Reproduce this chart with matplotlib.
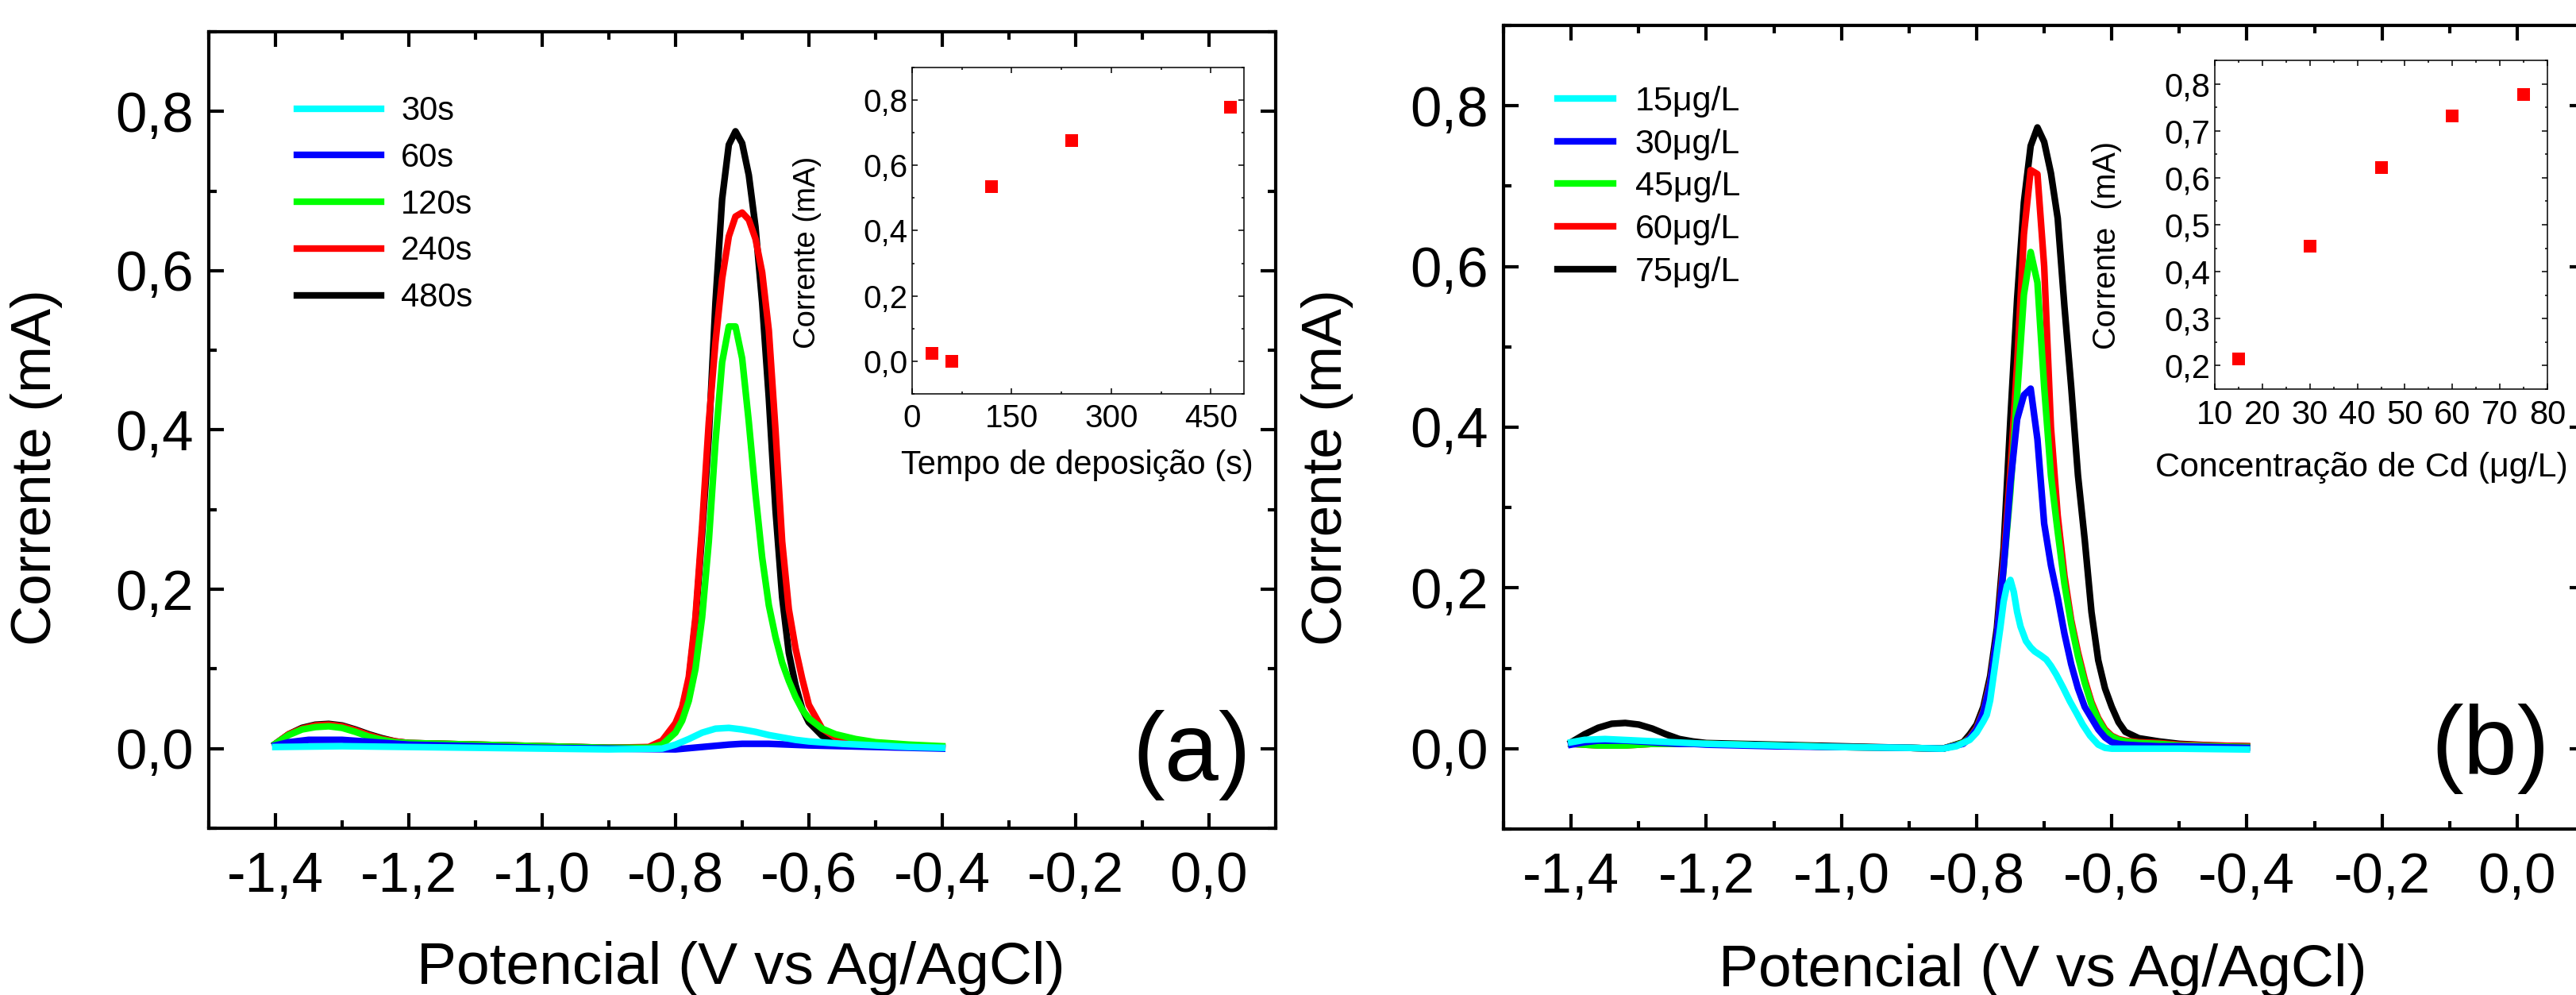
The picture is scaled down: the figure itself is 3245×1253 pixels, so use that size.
import matplotlib
matplotlib.use("Agg")
import matplotlib.pyplot as plt
from matplotlib.ticker import MultipleLocator, FuncFormatter

plt.rcParams["font.family"] = ["Liberation Sans", "DejaVu Sans"]

# ---------------- panel (a): deposition time ----------------
a_labels = ["30s", "60s", "120s", "240s", "480s"]
colors = ["#00ffff", "#0000ff", "#00ff00", "#ff0000", "#000000"]

a_grid = [-1.40, -1.38, -1.36, -1.34, -1.32, -1.30, -1.28, -1.26, -1.24, -1.22, -1.20,
          -1.10, -1.00, -0.90, -0.84,
          -0.82, -0.80, -0.79, -0.78, -0.77, -0.76, -0.75, -0.74, -0.73, -0.72, -0.71,
          -0.70, -0.69, -0.68, -0.67, -0.66, -0.65, -0.64, -0.63, -0.62, -0.61, -0.60,
          -0.58, -0.56, -0.53, -0.50, -0.45, -0.40]
a_480 = [0.006, 0.018, 0.026, 0.030, 0.031, 0.029, 0.024, 0.018, 0.013, 0.009, 0.007,
         0.005, 0.003, 0.001, 0.001,
         0.008, 0.030, 0.050, 0.085, 0.160, 0.270, 0.392, 0.560, 0.690, 0.758, 0.775,
         0.760, 0.720, 0.655, 0.560, 0.440, 0.300, 0.190, 0.120, 0.080, 0.050, 0.033,
         0.016, 0.010, 0.006, 0.004, 0.002, 0.001]
a_240 = [0.006, 0.018, 0.025, 0.029, 0.030, 0.028, 0.023, 0.017, 0.012, 0.009, 0.007,
         0.005, 0.003, 0.001, 0.002,
         0.010, 0.032, 0.052, 0.090, 0.165, 0.280, 0.410, 0.510, 0.590, 0.643, 0.668,
         0.673, 0.664, 0.640, 0.598, 0.525, 0.400, 0.260, 0.175, 0.126, 0.088, 0.055,
         0.025, 0.014, 0.008, 0.005, 0.003, 0.002]
a_120 = [0.006, 0.017, 0.024, 0.027, 0.028, 0.026, 0.021, 0.015, 0.011, 0.008, 0.007,
         0.005, 0.003, 0.001, 0.001,
         0.005, 0.020, 0.035, 0.060, 0.100, 0.165, 0.260, 0.385, 0.485, 0.530, 0.530,
         0.490, 0.410, 0.320, 0.240, 0.180, 0.140, 0.108, 0.085, 0.065, 0.049, 0.038,
         0.025, 0.018, 0.012, 0.008, 0.005, 0.003]
a_x_30 = [-1.40, -1.30, -1.20, -1.10, -1.00, -0.90, -0.82, -0.80, -0.78, -0.76, -0.74,
          -0.72, -0.70, -0.68, -0.66, -0.64, -0.62, -0.60, -0.55, -0.50, -0.45, -0.40]
a_30 = [0.002, 0.003, 0.002, 0.001, 0.000, -0.001, 0.000, 0.005, 0.012, 0.020, 0.025,
        0.026, 0.024, 0.021, 0.017, 0.014, 0.011, 0.009, 0.006, 0.004, 0.002, 0.001]
a_x_60 = [-1.40, -1.38, -1.35, -1.30, -1.25, -1.20, -1.10, -1.00, -0.90, -0.80, -0.76,
          -0.72, -0.70, -0.66, -0.60, -0.50, -0.40]
a_60 = [0.004, 0.008, 0.011, 0.011, 0.008, 0.005, 0.003, 0.001, 0.000, -0.001, 0.002,
        0.005, 0.006, 0.006, 0.004, 0.002, 0.000]

a_time = [30, 60, 120, 240, 480]
a_peak = [0.025, 0.0, 0.535, 0.675, 0.778]

# ---------------- panel (b): Cd concentration ----------------
b_labels = ["15\u03bcg/L", "30\u03bcg/L", "45\u03bcg/L", "60\u03bcg/L", "75\u03bcg/L"]

b_grid = [-1.40, -1.38, -1.36, -1.34, -1.32, -1.30, -1.28, -1.26, -1.24, -1.22, -1.20,
          -1.10, -1.00, -0.90, -0.85,
          -0.82, -0.81, -0.80, -0.79, -0.78, -0.77, -0.76, -0.75, -0.74, -0.73, -0.72,
          -0.71, -0.70, -0.69, -0.68, -0.67, -0.66, -0.65, -0.64, -0.63, -0.62, -0.61,
          -0.60, -0.59, -0.58,
          -0.56, -0.53, -0.50, -0.45, -0.40]
b_75 = [0.008, 0.018, 0.026, 0.031, 0.032, 0.030, 0.025, 0.018, 0.012, 0.009, 0.007,
        0.005, 0.003, 0.001, 0.000,
        0.008, 0.018, 0.030, 0.052, 0.090, 0.150, 0.250, 0.410, 0.560, 0.680, 0.750,
        0.773, 0.755, 0.716, 0.660, 0.550, 0.450, 0.340, 0.260, 0.170, 0.110, 0.075,
        0.052, 0.033, 0.021,
        0.013, 0.009, 0.006, 0.004, 0.003]
b_60 = [0.006, 0.005, 0.004, 0.004, 0.004, 0.005, 0.006, 0.006, 0.006, 0.006, 0.006,
        0.004, 0.002, 0.001, 0.000,
        0.007, 0.014, 0.026, 0.047, 0.083, 0.140, 0.235, 0.345, 0.480, 0.640, 0.720,
        0.715, 0.600, 0.400, 0.290, 0.215, 0.160, 0.120, 0.086, 0.058, 0.038, 0.024,
        0.016, 0.012, 0.010,
        0.008, 0.007, 0.005, 0.004, 0.003]
b_45 = [0.006, 0.005, 0.004, 0.004, 0.004, 0.005, 0.006, 0.006, 0.006, 0.006, 0.006,
        0.004, 0.002, 0.001, 0.000,
        0.007, 0.013, 0.024, 0.045, 0.080, 0.135, 0.225, 0.320, 0.440, 0.565, 0.618,
        0.580, 0.450, 0.340, 0.270, 0.205, 0.155, 0.115, 0.082, 0.055, 0.036, 0.022,
        0.015, 0.011, 0.009,
        0.007, 0.006, 0.004, 0.003, 0.002]
b_30 = [0.005, 0.008, 0.010, 0.010, 0.010, 0.009, 0.008, 0.007, 0.006, 0.006, 0.005,
        0.003, 0.002, 0.001, 0.000,
        0.006, 0.013, 0.024, 0.045, 0.080, 0.140, 0.225, 0.330, 0.410, 0.440, 0.448,
        0.385, 0.280, 0.228, 0.188, 0.143, 0.105, 0.075, 0.052, 0.038, 0.024, 0.014,
        0.008, 0.006, 0.005,
        0.004, 0.003, 0.003, 0.002, 0.001]
b_x_15 = [-1.40, -1.38, -1.35, -1.30, -1.25, -1.20, -1.10, -1.00, -0.90, -0.85, -0.83,
          -0.81, -0.80, -0.79, -0.785, -0.78, -0.772, -0.765, -0.760, -0.755, -0.750,
          -0.745, -0.740, -0.735, -0.727, -0.720, -0.714, -0.705, -0.697, -0.690, -0.682,
          -0.672, -0.662, -0.652, -0.643, -0.632, -0.620, -0.610, -0.600, -0.500, -0.400]
b_15 = [0.008, 0.011, 0.012, 0.010, 0.008, 0.006, 0.004, 0.002, 0.001, 0.000, 0.003,
        0.011, 0.020, 0.034, 0.042, 0.060, 0.108, 0.150, 0.183, 0.203, 0.210,
        0.195, 0.170, 0.152, 0.134, 0.126, 0.121, 0.116, 0.111, 0.103, 0.092,
        0.076, 0.059, 0.044, 0.030, 0.016, 0.005, 0.001, 0.000, 0.000, -0.001]

b_conc = [15, 30, 45, 60, 75]
b_peak = [0.215, 0.455, 0.622, 0.731, 0.777]


def comma(v, pos):
    if abs(v) < 1e-9:
        v = 0.0
    return f"{v:.1f}".replace(".", ",")


def style_main(ax):
    ax.set_xlim(-1.5, 0.1)
    ax.set_ylim(-0.1, 0.9)
    ax.xaxis.set_major_locator(MultipleLocator(0.2))
    ax.xaxis.set_minor_locator(MultipleLocator(0.1))
    ax.yaxis.set_major_locator(MultipleLocator(0.2))
    ax.yaxis.set_minor_locator(MultipleLocator(0.1))
    ax.xaxis.set_major_formatter(FuncFormatter(comma))
    ax.yaxis.set_major_formatter(FuncFormatter(comma))
    ax.tick_params(which="both", direction="in", top=True, right=True, width=3)
    ax.tick_params(which="major", length=14, labelsize=51)
    ax.tick_params(which="minor", length=7)
    ax.tick_params(axis="x", pad=21)
    ax.tick_params(axis="y", pad=14)
    for s in ax.spines.values():
        s.set_linewidth(3)
    ax.set_xlabel("Potencial (V vs Ag/AgCl)", fontsize=54)
    ax.set_ylabel("Corrente (mA)", fontsize=51)


def style_inset(ax, size):
    ax.tick_params(which="both", direction="in", top=True, right=True, width=1.1)
    ax.tick_params(which="major", length=5, labelsize=size)
    ax.tick_params(which="minor", length=2.5)
    ax.tick_params(axis="x", pad=9)
    ax.tick_params(axis="y", pad=4)
    for s in ax.spines.values():
        s.set_linewidth(1.1)


fig = plt.figure(figsize=(32.45, 12.53), dpi=100)

# ---- (a) ----
ax1 = fig.add_axes([0.0810, 0.1676, 0.4142, 0.8005])
curves_a = [(a_grid, a_480), (a_grid, a_240), (a_grid, a_120), (a_x_60, a_60), (a_x_30, a_30)]
handles = []
for (xs, ys), c in zip(curves_a, colors[::-1]):
    h, = ax1.plot(xs, ys, color=c, lw=6)
    handles.append(h)
style_main(ax1)
ax1.xaxis.set_label_coords(0.499, -0.142)
ax1.yaxis.set_label_coords(-0.137, 0.453)
ax1.legend(handles[::-1], a_labels, loc="upper left", bbox_to_anchor=(0.083, 0.92),
           frameon=False, fontsize=30, handlelength=2.54, handletextpad=0.6,
           labelspacing=0.45, borderpad=0, borderaxespad=0)
ax1.text(0.921, 0.092, "(a)", transform=ax1.transAxes, fontsize=88,
         ha="center", va="center")

ins1 = fig.add_axes([0.3541, 0.6042, 0.1288, 0.3280])
ins1.plot(a_time, a_peak, "s", color="#ff0000", ms=11.5, mew=0)
ins1.set_xlim(0, 500)
ins1.set_ylim(-0.1, 0.9)
ins1.xaxis.set_major_locator(MultipleLocator(150))
ins1.xaxis.set_minor_locator(MultipleLocator(75))
ins1.yaxis.set_major_locator(MultipleLocator(0.2))
ins1.yaxis.set_minor_locator(MultipleLocator(0.1))
ins1.yaxis.set_major_formatter(FuncFormatter(comma))
style_inset(ins1, 29)
ins1.set_xlabel("Tempo de deposição (s)", fontsize=30)
ins1.set_ylabel("Corrente (mA)", fontsize=27.5)
ins1.xaxis.set_label_coords(0.498, -0.17)
ins1.yaxis.set_label_coords(-0.273, 0.433)

# ---- (b) ----
ax2 = fig.add_axes([0.5837, 0.1668, 0.4197, 0.8077])
curves_b = [(b_grid, b_75), (b_grid, b_60), (b_grid, b_45), (b_grid, b_30), (b_x_15, b_15)]
handles = []
for (xs, ys), c in zip(curves_b, colors[::-1]):
    h, = ax2.plot(xs, ys, color=c, lw=6)
    handles.append(h)
style_main(ax2)
ax2.xaxis.set_label_coords(0.499, -0.142)
ax2.yaxis.set_label_coords(-0.139, 0.45)
ax2.legend(handles[::-1], b_labels, loc="upper left", bbox_to_anchor=(0.050, 0.925),
           frameon=False, fontsize=31, handlelength=1.63, handletextpad=0.63,
           labelspacing=0.32, borderpad=0, borderaxespad=0)
ax2.text(0.913, 0.10, "(b)", transform=ax2.transAxes, fontsize=88,
         ha="center", va="center")

ins2 = fig.add_axes([0.8598, 0.6089, 0.1291, 0.3304])
ins2.plot(b_conc, b_peak, "s", color="#ff0000", ms=11.5, mew=0)
ins2.set_xlim(10, 80)
ins2.set_ylim(0.15, 0.85)
ins2.xaxis.set_major_locator(MultipleLocator(10))
ins2.xaxis.set_minor_locator(MultipleLocator(5))
ins2.yaxis.set_major_locator(MultipleLocator(0.1))
ins2.yaxis.set_minor_locator(MultipleLocator(0.05))
ins2.yaxis.set_major_formatter(FuncFormatter(comma))
style_inset(ins2, 30)
ins2.set_xlabel("Concentração de Cd (\u03bcg/L)", fontsize=31)
ins2.set_ylabel("Corrente  (mA)", fontsize=28.5)
ins2.xaxis.set_label_coords(0.44, -0.19)
ins2.yaxis.set_label_coords(-0.279, 0.437)

fig.savefig("out.png", dpi=100)
